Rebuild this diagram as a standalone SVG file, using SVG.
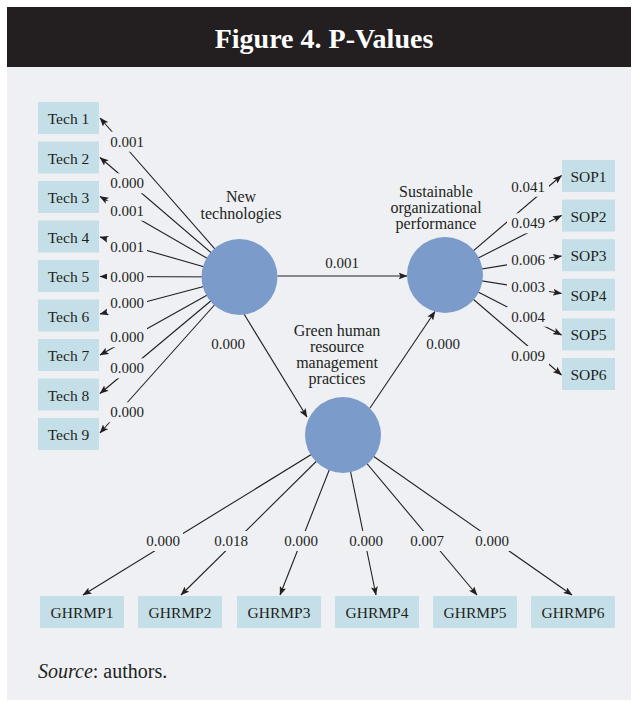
<svg xmlns="http://www.w3.org/2000/svg" width="638" height="703" viewBox="0 0 638 703">
  <defs>
    <marker id="arrow" markerUnits="userSpaceOnUse" markerWidth="9" markerHeight="7" refX="8.5" refY="3.5" orient="auto">
      <path d="M0,0 L9,3.5 L0,7 L2,3.5 Z" fill="#231f20"/>
    </marker>
    <style>
      .panel { fill: #eef0f4; }
      .bar { fill: #231f20; }
      .title { font-family: "Liberation Serif", "Times New Roman", serif; font-size: 28px; font-weight: bold; fill: #ffffff; text-anchor: middle; }
      .box { fill: #c5dfe8; }
      .blab { font-family: "Liberation Serif", "Times New Roman", serif; font-size: 15.5px; fill: #231f20; text-anchor: middle; }
      .circle { fill: #7b9bca; }
      .clab { font-family: "Liberation Serif", "Times New Roman", serif; font-size: 16px; fill: #231f20; text-anchor: middle; }
      .edge { stroke: #231f20; stroke-width: 1.1; fill: none; marker-end: url(#arrow); }
      .gap { fill: #eef0f4; }
      .val { font-family: "Liberation Serif", "Times New Roman", serif; font-size: 15px; fill: #231f20; text-anchor: middle; }
      .src { font-family: "Liberation Serif", "Times New Roman", serif; font-size: 20px; fill: #231f20; }
    </style>
  </defs>

  <!-- background and title bar -->
  <rect class="panel" x="7" y="67" width="624" height="633"/>
  <rect class="bar" x="7" y="7" width="624" height="60"/>
  <text class="title" x="324" y="48">Figure 4. P-Values</text>

  <!-- connectors with their p-value labels -->
  <g id="connectors">
    <!-- New technologies to indicators -->
    <line class="edge" x1="239.5" y1="277" x2="100" y2="118"/>
    <line class="edge" x1="239.5" y1="277" x2="100" y2="157.5"/>
    <line class="edge" x1="239.5" y1="277" x2="100" y2="196.5"/>
    <line class="edge" x1="239.5" y1="277" x2="100" y2="237"/>
    <line class="edge" x1="239.5" y1="277" x2="100" y2="276.5"/>
    <line class="edge" x1="239.5" y1="277" x2="100" y2="314"/>
    <line class="edge" x1="239.5" y1="277" x2="100" y2="355"/>
    <line class="edge" x1="239.5" y1="277" x2="100" y2="393.5"/>
    <line class="edge" x1="239.5" y1="277" x2="100" y2="433"/>
    <!-- Sustainable organizational performance to indicators -->
    <line class="edge" x1="445" y1="275" x2="561.5" y2="175.5"/>
    <line class="edge" x1="445" y1="275" x2="561.5" y2="215.5"/>
    <line class="edge" x1="445" y1="275" x2="561.5" y2="256"/>
    <line class="edge" x1="445" y1="275" x2="561.5" y2="293.5"/>
    <line class="edge" x1="445" y1="275" x2="561.5" y2="335"/>
    <line class="edge" x1="445" y1="275" x2="561.5" y2="375"/>
    <!-- GHRM practices to indicators -->
    <line class="edge" x1="343" y1="435" x2="83" y2="595"/>
    <line class="edge" x1="343" y1="435" x2="181" y2="595"/>
    <line class="edge" x1="343" y1="435" x2="280" y2="595"/>
    <line class="edge" x1="343" y1="435" x2="376" y2="595"/>
    <line class="edge" x1="343" y1="435" x2="477" y2="595"/>
    <line class="edge" x1="343" y1="435" x2="572" y2="595"/>
    <!-- structural paths -->
    <line class="edge" x1="277.5" y1="276" x2="407" y2="276"/>
    <line class="edge" x1="244" y1="314" x2="307" y2="417"/>
    <line class="edge" x1="370" y1="408" x2="435" y2="311.5"/>

    <!-- label gaps -->
    <rect class="gap" x="107" y="131.7" width="40" height="20"/>
    <rect class="gap" x="107" y="173.3" width="40" height="20"/>
    <rect class="gap" x="107" y="200.7" width="40" height="20"/>
    <rect class="gap" x="107" y="237.3" width="40" height="20"/>
    <rect class="gap" x="107" y="266.7" width="40" height="20"/>
    <rect class="gap" x="107" y="293.3" width="40" height="20"/>
    <rect class="gap" x="107" y="327.3" width="40" height="20"/>
    <rect class="gap" x="107" y="358.3" width="40" height="20"/>
    <rect class="gap" x="107" y="402.3" width="40" height="20"/>
    <rect class="gap" x="507" y="176.7" width="42" height="20"/>
    <rect class="gap" x="507" y="213.3" width="42" height="20"/>
    <rect class="gap" x="507" y="250" width="42" height="20"/>
    <rect class="gap" x="507" y="276.7" width="42" height="20"/>
    <rect class="gap" x="507" y="306.7" width="42" height="20"/>
    <rect class="gap" x="507" y="346" width="42" height="20"/>
    <rect class="gap" x="143" y="531" width="40" height="20"/>
    <rect class="gap" x="211" y="531" width="40" height="20"/>
    <rect class="gap" x="281" y="531" width="40" height="20"/>
    <rect class="gap" x="346" y="531" width="40" height="20"/>
    <rect class="gap" x="407" y="531" width="40" height="20"/>
    <rect class="gap" x="472" y="531" width="40" height="20"/>

    <!-- p-values -->
    <text class="val" x="127" y="146.7">0.001</text>
    <text class="val" x="127" y="188.3">0.000</text>
    <text class="val" x="127" y="215.7">0.001</text>
    <text class="val" x="127" y="252.3">0.001</text>
    <text class="val" x="127" y="281.7">0.000</text>
    <text class="val" x="127" y="308.3">0.000</text>
    <text class="val" x="127" y="342.3">0.000</text>
    <text class="val" x="127" y="373.3">0.000</text>
    <text class="val" x="127" y="417.3">0.000</text>
    <text class="val" x="528" y="191.7">0.041</text>
    <text class="val" x="528" y="228.3">0.049</text>
    <text class="val" x="528" y="265">0.006</text>
    <text class="val" x="528" y="291.7">0.003</text>
    <text class="val" x="528" y="321.7">0.004</text>
    <text class="val" x="528" y="361">0.009</text>
    <text class="val" x="163" y="546">0.000</text>
    <text class="val" x="231" y="546">0.018</text>
    <text class="val" x="301" y="546">0.000</text>
    <text class="val" x="366" y="546">0.000</text>
    <text class="val" x="427" y="546">0.007</text>
    <text class="val" x="492" y="546">0.000</text>
    <text class="val" x="342" y="268.3">0.001</text>
    <text class="val" x="228" y="349">0.000</text>
    <text class="val" x="443" y="349">0.000</text>
  </g>

  <!-- latent constructs -->
  <g id="new-technologies">
    <circle class="circle" cx="239.5" cy="277" r="38"/>
    <text class="clab" x="241" y="202">New</text>
    <text class="clab" x="241" y="218.5">technologies</text>
  </g>
  <g id="sustainable-performance">
    <circle class="circle" cx="445" cy="275" r="38"/>
    <text class="clab" x="436" y="197">Sustainable</text>
    <text class="clab" x="436" y="213">organizational</text>
    <text class="clab" x="436" y="229">performance</text>
  </g>
  <g id="ghrm-practices">
    <circle class="circle" cx="343" cy="435" r="38"/>
    <text class="clab" x="337" y="336">Green human</text>
    <text class="clab" x="337" y="352">resource</text>
    <text class="clab" x="337" y="368">management</text>
    <text class="clab" x="337" y="384">practices</text>
  </g>

  <!-- New technologies indicators -->
  <g id="tech1"><rect class="box" x="38" y="102" width="61" height="32"/><text class="blab" x="68.5" y="124">Tech 1</text></g>
  <g id="tech2"><rect class="box" x="38" y="141.5" width="61" height="32"/><text class="blab" x="68.5" y="163.5">Tech 2</text></g>
  <g id="tech3"><rect class="box" x="38" y="181" width="61" height="32"/><text class="blab" x="68.5" y="203">Tech 3</text></g>
  <g id="tech4"><rect class="box" x="38" y="220.5" width="61" height="32"/><text class="blab" x="68.5" y="242.5">Tech 4</text></g>
  <g id="tech5"><rect class="box" x="38" y="260" width="61" height="32"/><text class="blab" x="68.5" y="282">Tech 5</text></g>
  <g id="tech6"><rect class="box" x="38" y="299.5" width="61" height="32"/><text class="blab" x="68.5" y="321.5">Tech 6</text></g>
  <g id="tech7"><rect class="box" x="38" y="339" width="61" height="32"/><text class="blab" x="68.5" y="361">Tech 7</text></g>
  <g id="tech8"><rect class="box" x="38" y="378.5" width="61" height="32"/><text class="blab" x="68.5" y="400.5">Tech 8</text></g>
  <g id="tech9"><rect class="box" x="38" y="418" width="61" height="32"/><text class="blab" x="68.5" y="440">Tech 9</text></g>

  <!-- Sustainable organizational performance indicators -->
  <g id="sop1"><rect class="box" x="562" y="160" width="53" height="32"/><text class="blab" x="588.5" y="182">SOP1</text></g>
  <g id="sop2"><rect class="box" x="562" y="199.6" width="53" height="32"/><text class="blab" x="588.5" y="221.6">SOP2</text></g>
  <g id="sop3"><rect class="box" x="562" y="239.2" width="53" height="32"/><text class="blab" x="588.5" y="261.2">SOP3</text></g>
  <g id="sop4"><rect class="box" x="562" y="278.8" width="53" height="32"/><text class="blab" x="588.5" y="300.8">SOP4</text></g>
  <g id="sop5"><rect class="box" x="562" y="318.4" width="53" height="32"/><text class="blab" x="588.5" y="340.4">SOP5</text></g>
  <g id="sop6"><rect class="box" x="562" y="358" width="53" height="32"/><text class="blab" x="588.5" y="380">SOP6</text></g>

  <!-- GHRM practices indicators -->
  <g id="ghrmp1"><rect class="box" x="40" y="596" width="84" height="32"/><text class="blab" x="82" y="618">GHRMP1</text></g>
  <g id="ghrmp2"><rect class="box" x="138" y="596" width="84" height="32"/><text class="blab" x="180" y="618">GHRMP2</text></g>
  <g id="ghrmp3"><rect class="box" x="237" y="596" width="84" height="32"/><text class="blab" x="279" y="618">GHRMP3</text></g>
  <g id="ghrmp4"><rect class="box" x="335" y="596" width="84" height="32"/><text class="blab" x="377" y="618">GHRMP4</text></g>
  <g id="ghrmp5"><rect class="box" x="433" y="596" width="84" height="32"/><text class="blab" x="475" y="618">GHRMP5</text></g>
  <g id="ghrmp6"><rect class="box" x="531" y="596" width="84" height="32"/><text class="blab" x="573" y="618">GHRMP6</text></g>

  <!-- source note -->
  <text class="src" x="38" y="678"><tspan font-style="italic">Source</tspan>: authors.</text>
</svg>
